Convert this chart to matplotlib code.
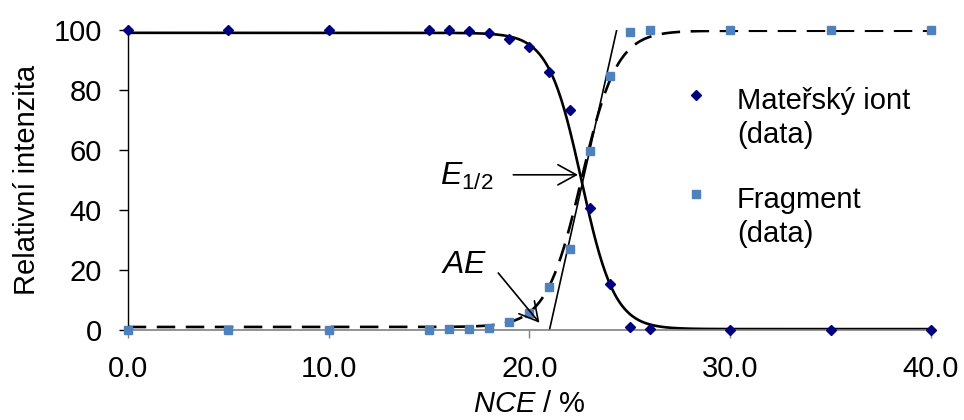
import numpy as np
import matplotlib
matplotlib.use('Agg')
import matplotlib.pyplot as plt
from matplotlib.legend_handler import HandlerLine2D

plt.rcParams['font.family'] = ['Liberation Sans', 'DejaVu Sans']
plt.rcParams['mathtext.fontset'] = 'custom'
plt.rcParams['mathtext.rm'] = 'Liberation Sans'
plt.rcParams['mathtext.it'] = 'Liberation Sans:italic'

# measured points
nce = [0, 5, 10, 15, 16, 17, 18, 19, 20, 21, 22, 23, 24, 25, 26, 30, 35, 40]
parent = [100, 100, 100, 100, 100, 99.7, 99.1, 97.0, 94.3, 85.9, 73.3, 40.6,
          15.3, 1.1, 0.2, 0, 0, 0]
fragment = [0, 0, 0, 0, 0.2, 0.3, 0.8, 2.8, 5.5, 14.4, 26.9, 59.7,
            84.7, 99.2, 100, 100, 100, 100]

# sigmoid fit parameters (Boltzmann)
e_half = 22.6
parent_fit = dict(top=99.0, bottom=0.3, width=0.82)
fragment_fit = dict(top=99.7, bottom=1.0, width=0.88)

# tangent through the fragment curve, crossing 0 at AE
tangent_x = [21.0, 24.35]
tangent_y = [0, 100]

fs = 21
fs_note = 23


def boltzmann(x, start, end, width):
    return end + (start - end) / (1 + np.exp((x - e_half) / width))


class FirstLineHandler(HandlerLine2D):
    # put the legend marker next to the first line of a two-line label
    def create_artists(self, legend, orig_handle, xdescent, ydescent,
                       width, height, fontsize, trans):
        arts = super().create_artists(legend, orig_handle, xdescent, ydescent,
                                      width, height, fontsize, trans)
        for a in arts:
            a.set_ydata(np.asarray(a.get_ydata()) + fontsize * 0.8)
        return arts


fig = plt.figure(figsize=(9.64, 4.2), dpi=100)
ax = fig.add_axes([0.1325, 0.2143, 0.8333, 0.7147])

xs = np.linspace(0, 40, 800)
ax.plot(xs, boltzmann(xs, parent_fit['top'], parent_fit['bottom'], parent_fit['width']),
        color='black', lw=1.9, zorder=2)
ax.plot(xs, boltzmann(xs, fragment_fit['bottom'], fragment_fit['top'], fragment_fit['width']),
        color='black', lw=1.9, linestyle=(0, (7, 4)), zorder=2)
ax.plot(tangent_x, tangent_y, color='black', lw=1.2, zorder=2)

p1, = ax.plot(nce, parent, linestyle='none', marker='D', markersize=5.5,
              color='#000080', clip_on=False, zorder=3, label='Mateřský iont\n(data)')
p2, = ax.plot(nce, fragment, linestyle='none', marker='s', markersize=5.5,
              color='#4F81BD', clip_on=False, zorder=3, label='Fragment\n(data)')

arrow = dict(arrowstyle='->,head_length=0.6,head_width=0.33', lw=1.2,
             color='black', mutation_scale=22, shrinkA=0, shrinkB=0)
ax.annotate('', xy=(22.42, 51.7), xytext=(19.2, 51.7), arrowprops=arrow)
ax.text(18.2, 51.0, r'$\mathit{E_{1/2}}$', fontsize=fs_note, ha='right', va='center')
ax.annotate('', xy=(20.5, 2.4), xytext=(18.45, 19.0), arrowprops=arrow)
ax.text(17.9, 21.5, r'$\mathit{AE}$', fontsize=fs_note, ha='right', va='center')

ax.set_xlim(0, 40)
ax.set_ylim(0, 100)
ax.set_xticks([0, 10, 20, 30, 40])
ax.set_xticklabels(['%.1f' % v for v in [0, 10, 20, 30, 40]])
ax.set_yticks([0, 20, 40, 60, 80, 100])

for s in ['top', 'right']:
    ax.spines[s].set_visible(False)
ax.spines['bottom'].set_color('#808080')
ax.spines['bottom'].set_linewidth(1.2)
ax.spines['left'].set_linewidth(1.0)
ax.tick_params(axis='x', colors='#808080', length=6, width=1.0, labelsize=fs,
               labelcolor='black', pad=12)
ax.tick_params(axis='y', length=6.5, width=1.0, labelsize=fs, pad=12)

ax.set_xlabel(r'$\mathit{NCE}$ / %', fontsize=fs, labelpad=5)
ax.set_ylabel('Relativní intenzita', fontsize=fs, labelpad=9)

leg = ax.legend(handles=[p1, p2], loc='upper left', bbox_to_anchor=(0.675, 0.85),
                frameon=False, fontsize=fs, handlelength=1.0, handletextpad=0.9,
                labelspacing=1.25, borderaxespad=0,
                handler_map={p1: FirstLineHandler(), p2: FirstLineHandler()})
for t in leg.get_texts():
    t.set_linespacing(1.3)

fig.savefig('out.png', dpi=100)
